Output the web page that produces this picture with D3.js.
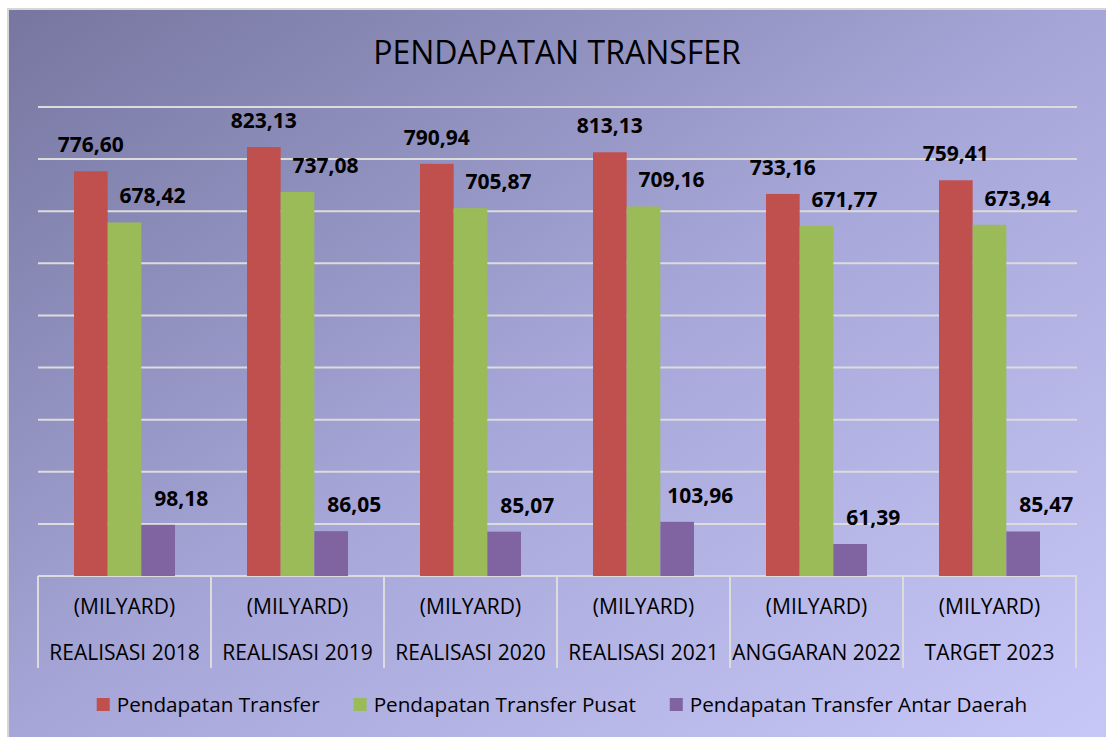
<!DOCTYPE html>
<html>
<head>
<meta charset="utf-8">
<script src="https://cdn.jsdelivr.net/npm/d3@7"></script>
<style>
    body { margin: 0; background: #fff; }
    text { font-family: "Open Sans", sans-serif; }
</style>
</head>
<body>
<svg id="chart" width="1106" height="737"></svg>
<script>
var categories = ["REALISASI 2018", "REALISASI 2019", "REALISASI 2020", "REALISASI 2021", "ANGGARAN 2022", "TARGET 2023"];
var unitLabel = "(MILYARD)";
var seriesNames = ["Pendapatan Transfer", "Pendapatan Transfer Pusat", "Pendapatan Transfer Antar Daerah"];
var transfer = [776.60, 823.13, 790.94, 813.13, 733.16, 759.41];
var transferPusat = [678.42, 737.08, 705.87, 709.16, 671.77, 673.94];
var transferAntarDaerah = [98.18, 86.05, 85.07, 103.96, 61.39, 85.47];
var yTicks = [0, 100, 200, 300, 400, 500, 600, 700, 800, 900];
var colors = ["#c0504d", "#9bbb59", "#8064a2"];

var seriesValues = [transfer, transferPusat, transferAntarDaerah];
var labelShift = [0, 28, 23];

var svg = d3.select("#chart");

// background with diagonal gradient
var defs = svg.append("defs");
var grad = defs.append("linearGradient")
    .attr("id", "bg")
    .attr("x1", "0%").attr("y1", "0%")
    .attr("x2", "100%").attr("y2", "100%");
grad.append("stop").attr("offset", "0%").attr("stop-color", "#7676a0");
grad.append("stop").attr("offset", "50%").attr("stop-color", "#a6a6d8");
grad.append("stop").attr("offset", "100%").attr("stop-color", "#c8c8f8");

svg.append("rect")
    .attr("x", 8).attr("y", 9)
    .attr("width", 1106).attr("height", 737)
    .attr("fill", "url(#bg)")
    .attr("stroke", "#d6d6d6")
    .attr("stroke-width", 2);

var x = d3.scaleBand()
    .domain(categories)
    .range([38, 1076]);

var x1 = d3.scaleBand()
    .domain(seriesNames)
    .range([0, x.bandwidth()])
    .paddingOuter(1.07);

var y = d3.scaleLinear()
    .domain([0, 900])
    .range([576, 107]);

// gridlines
svg.append("g")
    .attr("class", "grid")
    .selectAll("line")
    .data(yTicks)
    .enter().append("line")
    .attr("x1", 38)
    .attr("x2", 1077)
    .attr("y1", function (d) { return y(d); })
    .attr("y2", function (d) { return y(d); })
    .attr("stroke", "#dcdcdc")
    .attr("stroke-width", 2);

// category separators (table style axis)
var bounds = categories.map(function (c) { return x(c); }).concat([x.range()[1]]);
svg.append("g")
    .selectAll("line")
    .data(bounds)
    .enter().append("line")
    .attr("x1", function (d) { return d; })
    .attr("x2", function (d) { return d; })
    .attr("y1", y(0))
    .attr("y2", 668)
    .attr("stroke", "#dcdcdc")
    .attr("stroke-width", 2);

// bars
var rows = [];
seriesValues.forEach(function (vals, s) {
    vals.forEach(function (v, i) {
        rows.push({ cat: categories[i], series: seriesNames[s], s: s, value: v });
    });
});

svg.append("g")
    .selectAll("rect")
    .data(rows)
    .enter().append("rect")
    .attr("x", function (d) { return x(d.cat) + x1(d.series); })
    .attr("y", function (d) { return y(d.value); })
    .attr("width", x1.bandwidth())
    .attr("height", function (d) { return y(0) - y(d.value); })
    .attr("fill", function (d) { return colors[d.s]; });

// value labels
svg.append("g")
    .selectAll("text")
    .data(rows)
    .enter().append("text")
    .attr("x", function (d) { return x(d.cat) + x1(d.series) + x1.bandwidth() / 2 + labelShift[d.s]; })
    .attr("y", function (d) { return y(d.value) - 19; })
    .attr("text-anchor", "middle")
    .style("font-size", "21px")
    .style("font-weight", "bold")
    .style("fill", "#000")
    .text(function (d) { return d3.format(".2f")(d.value).replace(".", ","); });

// category labels
var catG = svg.append("g")
    .selectAll("g")
    .data(categories)
    .enter().append("g")
    .attr("transform", function (d) { return "translate(" + (x(d) + x.bandwidth() / 2) + ",0)"; });

catG.append("text")
    .attr("y", 614)
    .attr("text-anchor", "middle")
    .style("font-size", "21px")
    .style("fill", "#000")
    .text(unitLabel);

catG.append("text")
    .attr("y", 660)
    .attr("text-anchor", "middle")
    .style("font-size", "21px")
    .style("fill", "#000")
    .text(function (d) { return d; });

// title
svg.append("text")
    .attr("x", 557)
    .attr("y", 64)
    .attr("text-anchor", "middle")
    .style("font-size", "32px")
    .style("fill", "#000")
    .text("PENDAPATAN TRANSFER");

// legend
var legend = svg.append("g");
var items = legend.selectAll("g")
    .data(seriesNames)
    .enter().append("g");

items.append("rect")
    .attr("width", 13)
    .attr("height", 13)
    .attr("y", -14)
    .attr("fill", function (d, i) { return colors[i]; });

items.append("text")
    .attr("x", 20)
    .attr("y", 0)
    .style("font-size", "20.7px")
    .style("fill", "#000")
    .text(function (d) { return d; });

var offs = 0;
var widths = [];
items.each(function () {
    var w = 20 + d3.select(this).select("text").node().getComputedTextLength();
    widths.push(offs);
    offs += w + 34;
});
offs -= 34;
items.attr("transform", function (d, i) { return "translate(" + widths[i] + ",0)"; });
legend.attr("transform", "translate(" + (562 - offs / 2) + ",712)");
</script>
</body>
</html>
